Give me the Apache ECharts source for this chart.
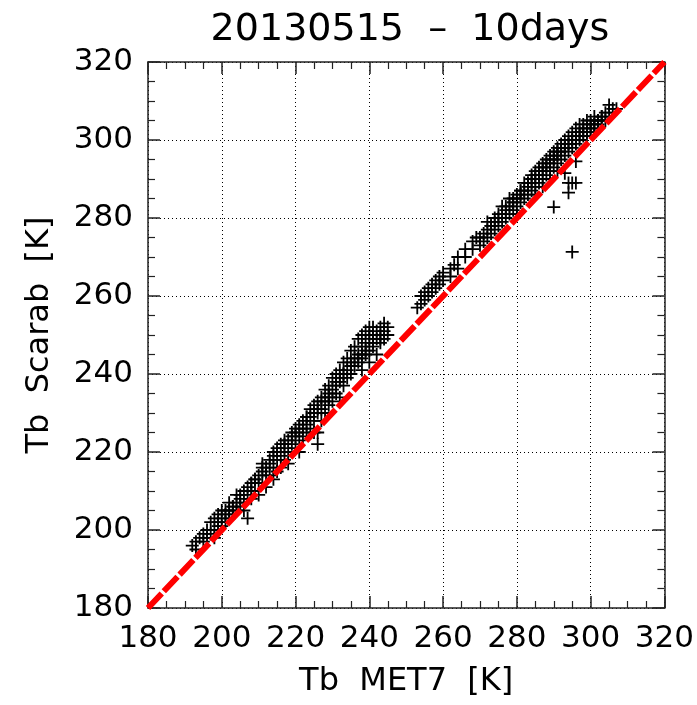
<!DOCTYPE html>
<html>
<head>
<meta charset="utf-8">
<script src="https://cdn.jsdelivr.net/npm/echarts@6/dist/echarts.min.js"></script>
<style>
  html, body { margin: 0; padding: 0; background: #fff; }
  #main { width: 697px; height: 705px; }
</style>
</head>
<body>
<div id="main"></div>
<script>
// Tb MET7 (x) and Tb Scarab (y)
var tbMet7 = [
  192,193,193,194,195,195,196,196,197,197,198,198,198,199,199,200,200,200,201,201,
  202,202,202,203,203,204,204,204,205,205,206,206,206,207,207,207,208,208,208,209,
  209,210,210,210,211,211,212,212,212,213,213,214,214,214,215,215,215,216,216,216,
  217,217,218,218,218,219,219,220,220,220,221,221,221,222,222,222,223,223,224,224,
  224,225,225,225,226,226,226,226,227,227,227,228,228,228,229,229,229,230,230,230,
  231,231,231,232,232,232,233,233,233,234,234,234,235,235,235,236,236,236,237,237,
  237,238,238,238,238,239,239,239,240,240,240,240,241,241,241,242,242,242,243,243,
  243,244,244,245,245,
  // extra density in lower band
  199,201,203,205,208,209,211,213,215,217,219,221,223,225,227,229,231,233,235,237,
  239,241,243,211,214,217,220,223,226,229,232,235,238,240,244,
  253,254,254,255,255,256,256,257,257,258,258,259,259,260,260,262,262,263,264,264,
  266,266,268,268,270,270,271,271,272,272,272,273,273,274,274,274,275,275,276,276,
  276,277,277,278,278,278,279,279,280,280,280,280,281,281,282,282,282,283,283,284,
  284,284,285,285,285,285,286,286,286,287,287,287,287,288,288,288,289,289,289,289,
  290,290,290,290,291,291,291,291,292,292,292,293,293,293,293,294,294,294,294,294,
  295,295,295,295,295,296,296,296,296,296,297,297,297,298,298,298,299,299,299,300,
  300,300,301,301,301,302,302,303,303,304,304,305,305,306,307,
  // extra density in upper band
  269,273,275,277,279,281,283,284,286,288,290,291,292,294,295,297,298,300,302,303,
  279,281,283,285,287,289,291,293,296,299,301
];
var tbScarab = [
  196,197,195,198,197,199,198,200,199,202,200,203,198,201,204,203,201,205,204,202,
  205,203,207,206,204,207,205,209,208,206,210,207,205,209,211,203,210,212,208,213,
  210,212,214,209,215,212,214,216,211,217,214,216,219,213,218,220,215,219,222,216,
  221,218,220,223,217,222,225,224,221,226,223,227,220,226,224,228,227,225,229,226,
  231,228,232,225,230,233,222,225,231,234,228,233,236,230,234,232,237,236,233,239,
  237,235,240,238,241,234,240,237,243,241,239,244,243,240,246,244,242,247,245,243,
  249,247,244,250,241,248,246,251,249,252,246,243,250,247,252,249,251,245,248,250,
  252,249,251,250,252,
  202,205,206,209,212,213,216,218,221,222,224,226,229,230,233,235,238,240,242,244,
  245,248,249,217,220,223,225,229,231,234,239,242,245,250,253,
  257,258,260,259,261,260,262,261,263,262,264,263,265,264,266,267,265,268,270,267,
  270,272,272,274,273,275,276,274,277,275,279,278,276,279,277,280,280,278,283,279,
  281,282,280,283,281,285,284,282,285,283,286,281,286,284,287,285,289,288,286,289,
  287,291,290,288,292,286,291,289,293,292,290,294,288,293,291,295,294,292,296,290,
  295,293,297,282.8,296,294,298,292,297,295,299,298,296,300,291.5,299,297,301,286.5,289,
  300,298,302,289,271.3,301,299,303,294.5,289,302,300,304,303,301,304,303,301,305,304,
  302,305,304,303,306,305,304,306,305,307,305,307,309,308,308,
  275,278,281,283,285,287,289,290,292,294,296,297,298,299,300,301,302,303,305,306,
  284,287,289,291,293,295,297,298,300,302,304
];
var xTicks = [180, 200, 220, 240, 260, 280, 300, 320];
var oneToOne = [180, 320];

var points = tbMet7.map(function (x, i) { return [x, tbScarab[i]]; });
var diag = oneToOne.map(function (v) { return [v, v]; });

var chart = echarts.init(document.getElementById('main'), null, { renderer: 'canvas' });
var font = 'DejaVu Sans';
var plusPath = 'path://M0 4.3H10V5.7H0Z M4.3 0H5.7V10H4.3Z';

function axisBase(pos, showLabel) {
  return {
    type: 'value',
    position: pos,
    min: xTicks[0],
    max: xTicks[xTicks.length - 1],
    interval: 20,
    axisLine: { show: true, onZero: false, lineStyle: { color: '#222', width: 1.5 } },
    axisTick: { show: true, inside: true, length: 12, lineStyle: { color: '#222', width: 1.5 } },
    minorTick: { show: true, splitNumber: 4, length: 7, lineStyle: { color: '#222', width: 1.2 } },
    axisLabel: { show: showLabel, color: '#000', fontFamily: font, fontSize: 31, margin: 15 },
    splitLine: { show: false }
  };
}

var xBottom = axisBase('bottom', true);
xBottom.name = 'Tb  MET7  [K]';
xBottom.nameLocation = 'middle';
xBottom.nameGap = 58;
xBottom.nameTextStyle = { color: '#000', fontFamily: font, fontSize: 32 };
xBottom.splitLine = { show: true, lineStyle: { color: '#000', type: [1, 3], width: 1 } };
var xTop = axisBase('top', false);

var yLeft = axisBase('left', true);
yLeft.name = 'Tb  Scarab  [K]';
yLeft.nameLocation = 'middle';
yLeft.nameGap = 92;
yLeft.nameTextStyle = { color: '#000', fontFamily: font, fontSize: 32 };
yLeft.splitLine = { show: true, lineStyle: { color: '#000', type: [1, 3], width: 1 } };
var yRight = axisBase('right', false);

chart.setOption({
  animation: false,
  backgroundColor: '#fff',
  title: {
    text: '20130515  –  10days',
    left: 405,
    textAlign: 'center',
    top: 6,
    textStyle: { color: '#000', fontFamily: font, fontSize: 38, fontWeight: 'normal' }
  },
  grid: { left: 148, top: 62, right: 31, bottom: 97 },
  xAxis: [xBottom, xTop],
  yAxis: [yLeft, yRight],
  series: [
    {
      type: 'scatter',
      xAxisIndex: 0,
      yAxisIndex: 0,
      data: points,
      symbol: plusPath,
      symbolSize: 13,
      itemStyle: { color: '#000', opacity: 1 },
      z: 2
    },
    {
      type: 'line',
      xAxisIndex: 0,
      yAxisIndex: 0,
      data: diag,
      showSymbol: false,
      symbol: 'none',
      lineStyle: { color: '#ff0000', width: 6, type: [20, 3] },
      z: 3
    }
  ]
});
</script>
</body>
</html>
